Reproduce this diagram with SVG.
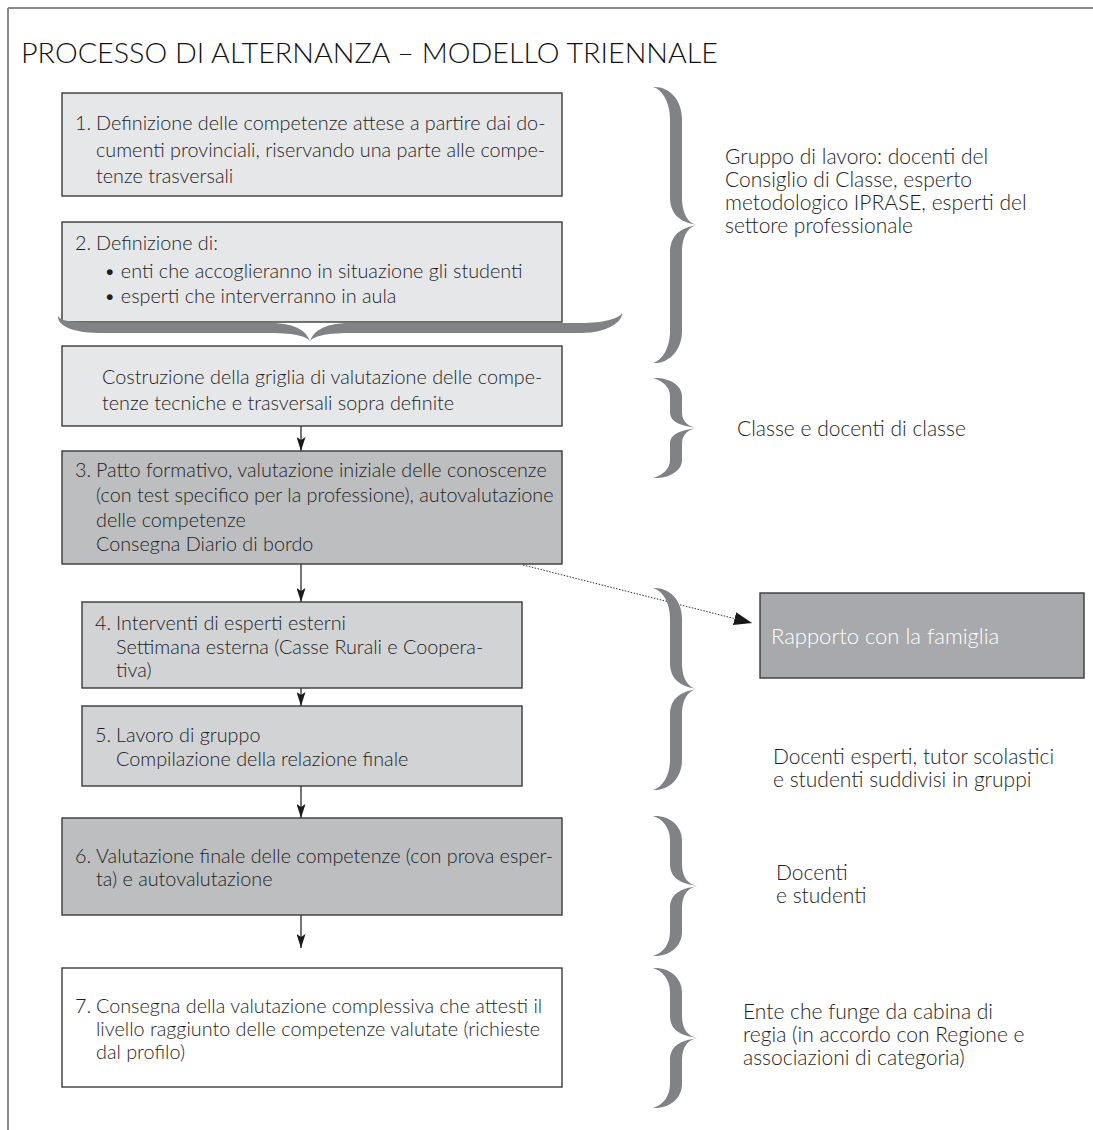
<svg xmlns="http://www.w3.org/2000/svg" width="1093" height="1130" viewBox="0 0 1093 1130">
<defs>
<style>
text{font-family:"Lato","Open Sans","Liberation Sans",sans-serif;font-weight:300;fill:#1e1e1e;font-size:19.8px}
.title{font-size:27px;font-weight:300;fill:#111}
.side{font-size:21px}
.box{stroke:#3a3a3a;stroke-width:1.4}
.l1{fill:#e6e7e8}
.d1{fill:#bcbec0}
.m1{fill:#d1d3d4}
.w1{fill:#ffffff}
.brace{fill:#808285}
.conn{stroke:#1a1a1a;stroke-width:1.2;fill:none}
.dot{stroke:#333;stroke-width:1;stroke-dasharray:1.5 1.5;fill:none}
.wt{fill:#ffffff;font-size:22px}
</style>
<marker id="ah" viewBox="0 0 14 9" refX="14" refY="4.5" markerWidth="14" markerHeight="9" orient="auto" markerUnits="userSpaceOnUse"><path d="M0,0 L14,4.5 L0,9 L3,4.5 Z" fill="#1a1a1a"/></marker>
<marker id="ah2" viewBox="0 0 18 13" refX="18" refY="6.5" markerWidth="18" markerHeight="13" orient="auto" markerUnits="userSpaceOnUse"><path d="M0,0 L18,6.5 L0,13 Z" fill="#1a1a1a"/></marker>
</defs>
<rect width="1093" height="1130" fill="#ffffff"/>
<g id="frame" stroke="#8a8a8a" stroke-width="2" fill="none">
<line x1="8" y1="8" x2="1093" y2="8"/>
<line x1="8" y1="8" x2="8" y2="1130"/>
</g>
<text class="title" x="21" y="63" textLength="697" lengthAdjust="spacingAndGlyphs">PROCESSO DI ALTERNANZA – MODELLO TRIENNALE</text>

<g id="connectors">
<line class="conn" x1="301" y1="426" x2="301" y2="451" marker-end="url(#ah)"/>
<line class="conn" x1="301" y1="564" x2="301" y2="602" marker-end="url(#ah)"/>
<line class="conn" x1="301" y1="688" x2="301" y2="706" marker-end="url(#ah)"/>
<line class="conn" x1="301" y1="786" x2="301" y2="818" marker-end="url(#ah)"/>
<line class="conn" x1="301" y1="915" x2="301" y2="948" marker-end="url(#ah)"/>
<line class="dot" x1="523" y1="565" x2="752" y2="623" marker-end="url(#ah2)"/>
</g>

<g id="box1">
<rect class="box l1" x="62" y="93" width="500" height="103"/>
<text x="75" y="130">1.</text>
<text x="96" y="130">Definizione delle competenze attese a partire dai do-</text>
<text x="96" y="157">cumenti provinciali, riservando una parte alle compe-</text>
<text x="96" y="183">tenze trasversali</text>
</g>
<g id="box2">
<rect class="box l1" x="62" y="222" width="500" height="100"/>
<text x="75" y="250">2.</text>
<text x="96" y="250">Definizione di:</text>
<text x="104" y="278">• enti che accoglieranno in situazione gli studenti</text>
<text x="104" y="303">• esperti che interverranno in aula</text>
</g>
<g id="brace-h">
<path class="brace" d="M58,316 C57,326 74,333 98,333 L270,333 C296,333 309,337 310,342 C311,337 324,333 350,333 L582,333 C606,333 623,322 622,313 C619,319 602,323 582,323 L350,323 C322,323 312,333 310,342 C308,333 298,323 270,323 L98,323 C78,323 61,322 58,316 Z"/>
</g>
<g id="box-griglia">
<rect class="box l1" x="62" y="346" width="500" height="80"/>
<text x="102" y="384">Costruzione della griglia di valutazione delle compe-</text>
<text x="102" y="410">tenze tecniche e trasversali sopra definite</text>
</g>
<g id="box3">
<rect class="box d1" x="62" y="451" width="500" height="113"/>
<text x="75" y="477">3.</text>
<text x="96" y="477">Patto formativo, valutazione iniziale delle conoscenze</text>
<text x="96" y="502">(con test specifico per la professione), autovalutazione</text>
<text x="96" y="527">delle competenze</text>
<text x="96" y="551">Consegna Diario di bordo</text>
</g>
<g id="box4">
<rect class="box m1" x="82" y="602" width="440" height="86"/>
<text x="95" y="630">4.</text>
<text x="116" y="630">Interventi di esperti esterni</text>
<text x="116" y="654">Settimana esterna (Casse Rurali e Coopera-</text>
<text x="116" y="677">tiva)</text>
</g>
<g id="box5">
<rect class="box m1" x="82" y="706" width="440" height="80"/>
<text x="95" y="742">5.</text>
<text x="116" y="742">Lavoro di gruppo</text>
<text x="116" y="766">Compilazione della relazione finale</text>
</g>
<g id="box6">
<rect class="box d1" x="62" y="818" width="500" height="97"/>
<text x="75" y="863">6.</text>
<text x="96" y="863">Valutazione finale delle competenze (con prova esper-</text>
<text x="96" y="886">ta) e autovalutazione</text>
</g>
<g id="box7">
<rect class="box w1" x="62" y="968" width="500" height="119"/>
<text x="75" y="1013">7.</text>
<text x="96" y="1013">Consegna della valutazione complessiva che attesti il</text>
<text x="96" y="1036">livello raggiunto delle competenze valutate (richieste</text>
<text x="96" y="1059">dal profilo)</text>
</g>
<g id="famiglia">
<rect class="box" fill="#a7a9ac" x="760" y="593" width="324" height="85"/>
<text class="wt" x="771" y="644">Rapporto con la famiglia</text>
</g>

<g id="group1">
<path class="brace" d="M653,87 C669,86 682,99.8 682,119 L682,197 C682,215.2 689,224 698,225 C689,226 682,234.8 682,253 L682,331 C682,350.2 669,364 653,363 C663,360 670,347 670,331 L670,253 C670,233.4 683,227 698,225 C683,223 670,216.6 670,197 L670,119 C670,103 663,90 653,87 Z"/>
<text class="side" x="725" y="164">Gruppo di lavoro: docenti del</text>
<text class="side" x="725" y="187">Consiglio di Classe, esperto</text>
<text class="side" x="725" y="210">metodologico IPRASE, esperti del</text>
<text class="side" x="725" y="233">settore professionale</text>
</g>
<g id="group2">
<path class="brace" d="M653,378 C669,377 682,385.2 682,396 L682,412 C682,422.4 689,427 698,428 C689,429 682,433.6 682,444 L682,460 C682,470.8 669,479 653,478 C663,475 670,469 670,460 L670,444 C670,432.8 683,430 698,428 C683,426 670,423.2 670,412 L670,396 C670,387 663,381 653,378 Z"/>
<text class="side" x="737" y="436">Classe e docenti di classe</text>
</g>
<g id="group3">
<path class="brace" d="M653,588 C669,587 682,600 682,618 L682,663 C682,679.9 689,688 698,689 C689,690 682,698.1 682,715 L682,760 C682,778 669,791 653,790 C663,787 670,775 670,760 L670,715 C670,696.8 683,691 698,689 C683,687 670,681.2 670,663 L670,618 C670,603 663,591 653,588 Z"/>
<text class="side" x="773" y="764">Docenti esperti, tutor scolastici</text>
<text class="side" x="773" y="787">e studenti suddivisi in gruppi</text>
</g>
<g id="group4">
<path class="brace" d="M653,816 C669,815 682,825.6 682,840 L682,864 C682,878.3 689,885 698,886 C689,887 682,893.7 682,908 L682,932 C682,946.4 669,957 653,956 C663,953 670,944 670,932 L670,908 C670,892.6 683,888 698,886 C683,884 670,879.4 670,864 L670,840 C670,828 663,819 653,816 Z"/>
<text class="side" x="776" y="880">Docenti</text>
<text class="side" x="776" y="903">e studenti</text>
</g>
<g id="group5">
<path class="brace" d="M653,968 C669,967 682,977.6 682,992 L682,1016 C682,1030.3 689,1037 698,1038 C689,1039 682,1045.7 682,1060 L682,1084 C682,1098.4 669,1109 653,1108 C663,1105 670,1096 670,1084 L670,1060 C670,1044.6 683,1040 698,1038 C683,1036 670,1031.4 670,1016 L670,992 C670,980 663,971 653,968 Z"/>
<text class="side" x="743" y="1019">Ente che funge da cabina di</text>
<text class="side" x="743" y="1042">regia (in accordo con Regione e</text>
<text class="side" x="743" y="1065">associazioni di categoria)</text>
</g>
</svg>
